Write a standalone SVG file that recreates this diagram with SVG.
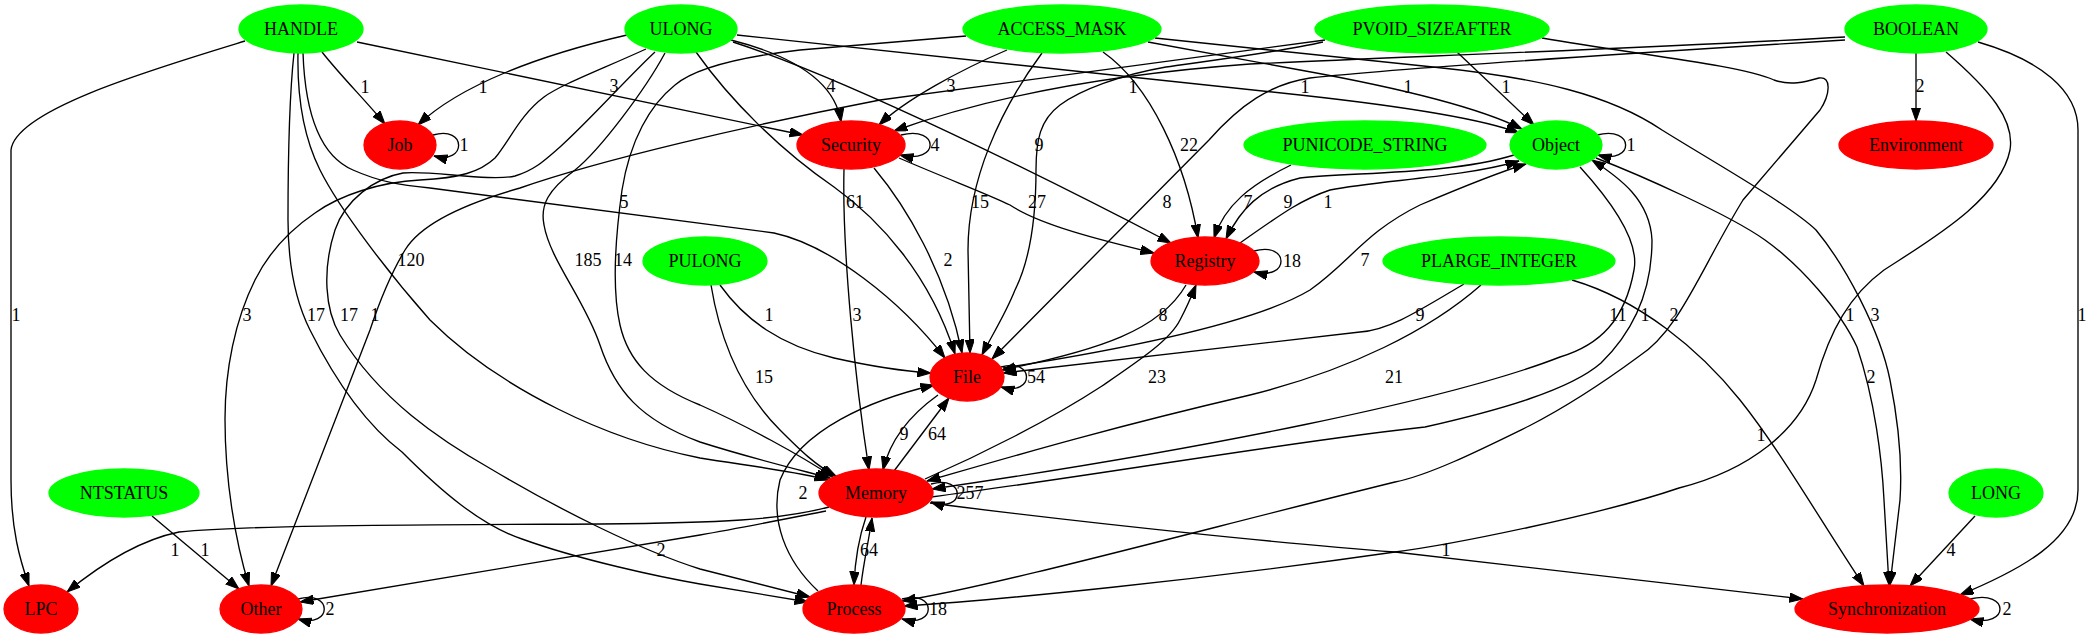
<svg xmlns="http://www.w3.org/2000/svg" width="2095" height="639" viewBox="0 0 2095 639">
<defs>
<style>
text{font-family:"Liberation Serif","Times New Roman",serif;font-size:18px;text-anchor:middle;fill:#000}
.g ellipse{fill:#00ff00;stroke:#00ff00;stroke-width:1.3}
.r ellipse{fill:#ff0000;stroke:#ff0000;stroke-width:1.3}
#edges path{fill:none;stroke:#000;stroke-width:1.35;marker-end:url(#arr)}
</style>
<marker id="arr" markerWidth="14" markerHeight="10" refX="13.5" refY="4.7" orient="auto" markerUnits="userSpaceOnUse">
<path d="M0,0 L13.5,4.7 L0,9.4 z" fill="#000" stroke="#000" stroke-width="1"/>
</marker>
</defs>
<rect width="2095" height="639" fill="#fff"/>
<g id="edges">
<path id="HANDLE-Job" d="M322,52 C340,75 365,100 385,124"/>
<path id="ULONG-Job" d="M627,35 C540,55 460,85 418,125"/>
<path id="Job-Job" d="M433,135 C467,125 467,165 434,156"/>
<path id="HANDLE-Security" d="M357,42 L803,135"/>
<path id="ULONG-Security" d="M731,40 C790,55 835,80 841,122"/>
<path id="ACCESS_MASK-Security" d="M1007,50 C960,70 905,100 879,125"/>
<path id="BOOLEAN-Security" d="M1845,37 C1650,48 1400,57 1250,64 C1100,75 980,100 894,131"/>
<path id="Security-Security" d="M901,135 C940,125 940,165 900,155"/>
<path id="HANDLE-LPC" d="M245,41 C150,70 15,110 11,150 L11,480 C11,530 20,560 29,586"/>
<path id="HANDLE-File" d="M303,53 C305,110 318,155 353,170 C380,182 400,185 430,188 L774,233 C830,245 900,300 945,358"/>
<path id="HANDLE-Memory" d="M298,53 C297,100 305,140 320,170 C340,210 390,275 430,320 C470,360 520,390 558,409 C600,430 650,448 700,458 C750,466 800,472 828,480"/>
<path id="HANDLE-Process" d="M294,53 C290,90 288,160 288,220 C288,265 295,300 310,330 C330,370 360,420 402,452 C440,490 480,525 522,539 C580,560 660,577 700,584 L808,602"/>
<path id="ULONG-Process" d="M655,52 C630,75 590,120 560,147 C545,160 535,170 515,176 C490,182 430,170 403,173 C375,178 345,200 335,230 C322,270 325,310 340,335 C380,400 440,440 491,469 C560,510 640,550 700,569 L810,597"/>
<path id="ULONG-Other" d="M646,49 C600,70 560,85 544,97 C520,115 510,140 495,158 C480,172 460,178 420,180 C380,182 340,195 315,213 C290,230 270,250 255,280 C235,320 225,370 225,419 C225,480 235,540 249,586"/>
<path id="PVOID_SIZEAFTER-Other" d="M1325,40 L880,100 C750,125 600,160 520,188 C460,205 420,225 405,250 C390,275 380,300 370,330 L271,586"/>
<path id="ULONG-Registry" d="M733,42 C850,80 1050,180 1171,243"/>
<path id="ULONG-Object" d="M737,35 L1300,95 C1400,106 1480,118 1519,133"/>
<path id="ULONG-File" d="M696,52 C730,100 780,150 834,187 C880,220 930,275 955,354"/>
<path id="ULONG-Memory" d="M665,53 C645,90 600,150 575,170 C548,190 540,205 544,225 C550,260 585,300 600,345 C615,390 640,420 700,442 C750,458 800,470 830,478"/>
<path id="ACCESS_MASK-Memory" d="M966,36 L800,50 C740,57 695,68 675,85 C650,105 630,140 622,190 C615,240 612,290 620,325 C628,360 650,385 700,405 C745,425 800,455 833,477"/>
<path id="ACCESS_MASK-File" d="M1042,53 C1000,110 968,180 968,250 L970,353"/>
<path id="ACCESS_MASK-Registry" d="M1103,52 C1150,85 1185,160 1198,238"/>
<path id="ACCESS_MASK-Object" d="M1148,42 L1300,70 C1400,88 1480,108 1522,129"/>
<path id="ACCESS_MASK-Synchronization" d="M1155,38 L1433,67 C1540,78 1610,95 1662,130 C1710,160 1790,205 1816,230 C1845,265 1880,330 1890,380 C1900,430 1902,470 1900,500 L1890,585"/>
<path id="PVOID_SIZEAFTER-Object" d="M1457,52 L1534,125"/>
<path id="PVOID_SIZEAFTER-File" d="M1323,42 C1280,52 1200,62 1166,67 C1120,75 1080,90 1060,105 C1040,120 1036,140 1036,170 C1036,220 1030,260 1015,290 C1005,315 992,335 982,355"/>
<path id="PVOID_SIZEAFTER-Process" d="M1542,38 C1640,55 1740,65 1774,80 C1790,86 1805,82 1819,78 C1832,76 1830,95 1820,110 L1743,200 C1700,270 1680,330 1638,357 C1600,385 1560,410 1529,426 C1480,450 1430,475 1395,482 C1200,530 1000,585 902,601"/>
<path id="BOOLEAN-Environment" d="M1916,53 L1916,121"/>
<path id="BOOLEAN-File" d="M1845,40 C1650,52 1400,68 1310,78 C1270,84 1240,105 1209,140 L992,359"/>
<path id="BOOLEAN-Process" d="M1946,52 C1990,90 2015,120 2010,150 C2000,200 1930,240 1884,270 C1850,295 1830,330 1816,380 C1800,430 1750,470 1679,488 C1600,515 1450,545 1395,552 C1200,580 1000,600 904,606"/>
<path id="BOOLEAN-Synchronization" d="M1978,42 C2040,60 2078,90 2078,130 L2078,490 C2078,540 2020,570 1960,595"/>
<path id="Security-Registry" d="M899,158 C950,180 990,195 1010,205 C1040,225 1100,240 1154,253"/>
<path id="Security-File" d="M874,168 C905,205 945,270 962,353"/>
<path id="Security-Memory" d="M844,169 C842,250 855,380 869,470"/>
<path id="PUNICODE_STRING-Registry" d="M1291,165 C1250,185 1225,205 1214,238"/>
<path id="Object-Registry" d="M1514,155 C1450,175 1350,172 1300,178 C1260,188 1240,210 1226,239"/>
<path id="Registry-Object" d="M1240,243 C1280,215 1300,200 1330,190 C1380,180 1460,178 1519,161"/>
<path id="Registry-Registry" d="M1254,251 C1290,241 1290,281 1254,272"/>
<path id="Registry-File" d="M1186,285 C1160,330 1100,350 1002,370"/>
<path id="File-Object" d="M1003,368 C1150,345 1260,320 1310,290 C1350,262 1365,232 1420,205 C1460,188 1500,172 1526,164"/>
<path id="Object-Object" d="M1597,135 C1635,125 1635,165 1598,155"/>
<path id="Object-Memory" d="M1580,167 C1610,200 1640,240 1634,270 C1625,320 1600,345 1560,357 C1450,400 1200,450 932,489"/>
<path id="Memory-Object" d="M931,497 C1100,475 1300,440 1425,427 C1500,410 1570,390 1601,363 C1640,325 1652,280 1652,240 C1650,200 1620,178 1592,160"/>
<path id="Object-Synchronization" d="M1596,158 C1640,175 1730,215 1765,240 C1800,265 1840,310 1857,347 C1875,400 1882,460 1884,500 L1889,585"/>
<path id="PULONG-File" d="M720,285 C745,320 780,345 834,358 C870,366 900,371 931,373"/>
<path id="PULONG-Memory" d="M711,285 C720,340 740,390 780,430 C800,450 815,465 836,476"/>
<path id="PLARGE_INTEGER-File" d="M1464,284 C1420,310 1390,330 1360,332 L1003,373"/>
<path id="PLARGE_INTEGER-Memory" d="M1481,285 C1430,330 1350,370 1250,395 C1100,430 1000,460 927,481"/>
<path id="PLARGE_INTEGER-Synchronization" d="M1572,280 C1640,300 1700,350 1740,400 C1780,450 1820,520 1864,586"/>
<path id="File-File" d="M1001,367 C1035,357 1035,397 1001,387"/>
<path id="Memory-Registry" d="M925,479 C980,455 1050,420 1102,386 C1140,360 1170,340 1180,320 C1188,305 1192,295 1196,285"/>
<path id="File-Memory" d="M938,395 C910,415 890,440 883,470"/>
<path id="Memory-File" d="M894,471 L949,398"/>
<path id="Memory-Memory" d="M931,484 C966,474 966,514 931,502"/>
<path id="Process-File" d="M818,591 C785,560 770,520 780,480 C800,430 870,400 934,385"/>
<path id="Memory-LPC" d="M829,507 C780,520 720,523 600,524 C400,525 250,525 179,532 C140,540 100,565 67,592"/>
<path id="NTSTATUS-Other" d="M152,516 L239,589"/>
<path id="Memory-Other" d="M826,511 C780,520 740,528 700,535 L300,602"/>
<path id="Memory-Process" d="M866,517 C858,540 855,560 854,585"/>
<path id="Process-Memory" d="M861,585 C864,560 868,545 872,518"/>
<path id="Process-Process" d="M902,599 C937,589 937,629 902,619"/>
<path id="Memory-Synchronization" d="M930,503 C1100,525 1300,545 1395,552 C1550,570 1700,588 1803,599"/>
<path id="LONG-Synchronization" d="M1975,516 L1910,586"/>
<path id="Synchronization-Synchronization" d="M1970,599 C2010,589 2010,629 1970,619"/>
<path id="Other-Other" d="M298,599 C333,589 333,629 298,619"/>
</g>
<g id="edge-labels">
<text x="365" y="93">1</text><text x="483" y="93">1</text><text x="614" y="92">3</text><text x="831" y="92">4</text><text x="951" y="92">3</text>
<text x="1133" y="93">1</text><text x="1305" y="93">1</text><text x="1408" y="93">1</text><text x="1506" y="93">1</text><text x="1920" y="92">2</text>
<text x="464" y="151">1</text><text x="935" y="151">4</text><text x="1039" y="151">9</text><text x="1189" y="151">22</text><text x="1631" y="151">1</text>
<text x="624" y="208">5</text><text x="855" y="208">61</text><text x="980" y="208">15</text><text x="1037" y="208">27</text><text x="1167" y="208">8</text><text x="1248" y="208">7</text><text x="1288" y="208">9</text><text x="1328" y="208">1</text>
<text x="411" y="266">120</text><text x="588" y="266">185</text><text x="623" y="266">14</text><text x="948" y="266">2</text><text x="1292" y="267">18</text><text x="1365" y="266">7</text>
<text x="16" y="321">1</text><text x="247" y="321">3</text><text x="316" y="321">17</text><text x="349" y="321">17</text><text x="375" y="321">1</text><text x="769" y="321">1</text><text x="857" y="321">3</text><text x="1163" y="321">8</text><text x="1420" y="321">9</text><text x="1618" y="321">11</text><text x="1645" y="321">1</text><text x="1674" y="321">2</text><text x="1850" y="321">1</text><text x="1875" y="321">3</text><text x="2082" y="321">1</text>
<text x="764" y="383">15</text><text x="1036" y="383">54</text><text x="1157" y="383">23</text><text x="1394" y="383">21</text><text x="1871" y="383">2</text>
<text x="904" y="440">9</text><text x="937" y="440">64</text><text x="1761" y="441">1</text>
<text x="803" y="499">2</text><text x="970" y="499">257</text>
<text x="175" y="556">1</text><text x="205" y="556">1</text><text x="661" y="556">2</text><text x="869" y="556">64</text><text x="1446" y="556">1</text><text x="1951" y="556">4</text>
<text x="330" y="615">2</text><text x="938" y="615">18</text><text x="2007" y="615">2</text>
</g>
<g id="node-HANDLE" class="g"><ellipse cx="301" cy="29" rx="62" ry="24"/><text x="301" y="35">HANDLE</text></g>
<g id="node-ULONG" class="g"><ellipse cx="681" cy="29" rx="56" ry="24"/><text x="681" y="35">ULONG</text></g>
<g id="node-ACCESS_MASK" class="g"><ellipse cx="1062" cy="29" rx="99" ry="24"/><text x="1062" y="35">ACCESS_MASK</text></g>
<g id="node-PVOID_SIZEAFTER" class="g"><ellipse cx="1432" cy="29" rx="117" ry="24"/><text x="1432" y="35">PVOID_SIZEAFTER</text></g>
<g id="node-BOOLEAN" class="g"><ellipse cx="1916" cy="29" rx="71" ry="24"/><text x="1916" y="35">BOOLEAN</text></g>
<g id="node-Job" class="r"><ellipse cx="400" cy="145" rx="36" ry="24"/><text x="400" y="151">Job</text></g>
<g id="node-Security" class="r"><ellipse cx="851" cy="145" rx="54" ry="24"/><text x="851" y="151">Security</text></g>
<g id="node-PUNICODE_STRING" class="g"><ellipse cx="1365" cy="145" rx="121" ry="24"/><text x="1365" y="151">PUNICODE_STRING</text></g>
<g id="node-Object" class="g"><ellipse cx="1556" cy="145" rx="46" ry="24"/><text x="1556" y="151">Object</text></g>
<g id="node-Environment" class="r"><ellipse cx="1916" cy="145" rx="77" ry="24"/><text x="1916" y="151">Environment</text></g>
<g id="node-PULONG" class="g"><ellipse cx="705" cy="261" rx="62" ry="24"/><text x="705" y="267">PULONG</text></g>
<g id="node-Registry" class="r"><ellipse cx="1205" cy="261" rx="54" ry="24"/><text x="1205" y="267">Registry</text></g>
<g id="node-PLARGE_INTEGER" class="g"><ellipse cx="1499" cy="261" rx="116" ry="24"/><text x="1499" y="267">PLARGE_INTEGER</text></g>
<g id="node-File" class="r"><ellipse cx="967" cy="377" rx="37" ry="24"/><text x="967" y="383">File</text></g>
<g id="node-NTSTATUS" class="g"><ellipse cx="124" cy="493" rx="75" ry="24"/><text x="124" y="499">NTSTATUS</text></g>
<g id="node-Memory" class="r"><ellipse cx="876" cy="493" rx="57" ry="24"/><text x="876" y="499">Memory</text></g>
<g id="node-LONG" class="g"><ellipse cx="1996" cy="493" rx="47" ry="24"/><text x="1996" y="499">LONG</text></g>
<g id="node-LPC" class="r"><ellipse cx="41" cy="609" rx="37" ry="24"/><text x="41" y="615">LPC</text></g>
<g id="node-Other" class="r"><ellipse cx="261" cy="609" rx="41" ry="24"/><text x="261" y="615">Other</text></g>
<g id="node-Process" class="r"><ellipse cx="854" cy="609" rx="51" ry="24"/><text x="854" y="615">Process</text></g>
<g id="node-Synchronization" class="r"><ellipse cx="1887" cy="609" rx="92" ry="24"/><text x="1887" y="615">Synchronization</text></g>
</svg>
